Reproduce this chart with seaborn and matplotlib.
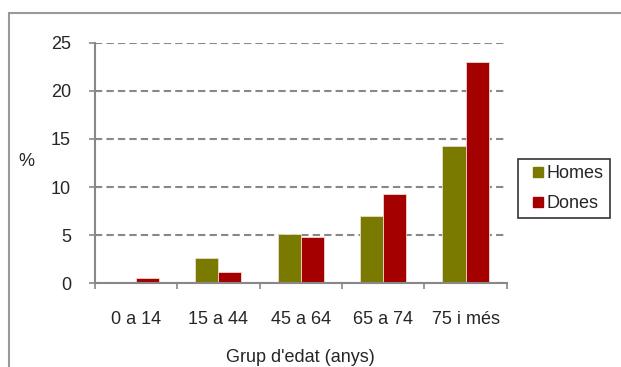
import matplotlib
matplotlib.use("Agg")
import matplotlib.pyplot as plt
import matplotlib.patches as mpatches
from matplotlib.lines import Line2D
import seaborn as sns
import pandas as pd

groups = ["0 a 14", "15 a 44", "45 a 64", "65 a 74", "75 i més"]
homes = [0.0, 2.63, 5.12, 7.03, 14.3]
dones = [0.59, 1.18, 4.81, 9.28, 22.96]
series = ["Homes", "Dones"]
colors = ["#7A7A00", "#A50000"]

df = pd.DataFrame({
    "grup": groups * 2,
    "pct": homes + dones,
    "sexe": ["Homes"] * len(groups) + ["Dones"] * len(groups),
})

sns.set_style("white")
plt.rcParams["font.family"] = ["Liberation Sans", "DejaVu Sans"]

fig = plt.figure(figsize=(6.21, 3.67), dpi=100)
ax = fig.add_axes([0.1525, 0.228, 0.6635, 0.6557])

sns.barplot(data=df, x="grup", y="pct", hue="sexe", hue_order=series,
            palette=colors, width=0.56, ax=ax, saturation=1, legend=False,
            edgecolor="#f0d8d0", linewidth=0.6)

ax.set_ylim(0, 25)
ax.set_xlim(-0.5, len(groups) - 0.5)
ax.set_yticks(range(0, 26, 5))
ax.yaxis.grid(True, linestyle=(0, (3.5, 2)), color="#888888", linewidth=1.5)
ax.set_axisbelow(True)

for s in ["top", "right"]:
    ax.spines[s].set_visible(False)
for s in ["left", "bottom"]:
    ax.spines[s].set_color("#888888")
    ax.spines[s].set_linewidth(1.5)

ax.tick_params(axis="y", direction="out", length=4, width=1.2, color="#888888",
               labelsize=13, pad=13, left=True)
ax.tick_params(axis="x", which="major", length=0, labelsize=13, pad=20)
ax.set_xticks([i - 0.5 for i in range(len(groups) + 1)], minor=True)
ax.tick_params(axis="x", which="minor", direction="out", length=4, width=1.2,
               color="#888888", bottom=True)

ax.set_xlabel("Grup d'edat (anys)", fontsize=13, labelpad=15)
ax.set_ylabel("%", fontsize=13, rotation=0, va="center", ha="center")
ax.yaxis.set_label_coords(-0.167, 0.505)

handles = [Line2D([], [], marker="s", linestyle="", markersize=7.5, color=c) for c in colors]
leg = fig.legend(handles, series, loc="upper left", bbox_to_anchor=(0.834, 0.567),
                 fontsize=13, frameon=True, fancybox=False, handlelength=1.5,
                 handletextpad=-0.26, labelspacing=0.7,
                 borderpad=0.35, borderaxespad=0)
leg.get_frame().set_edgecolor("black")
leg.get_frame().set_linewidth(1.2)

# chart area border, continues past the right and bottom edges
fig.patches.append(mpatches.Rectangle((0.0145, -0.05), 1.2, 1.0138, transform=fig.transFigure,
                                      fill=False, edgecolor="#999999", linewidth=1.5,
                                      clip_on=False))

fig.savefig("out.png", dpi=100, facecolor="white")
